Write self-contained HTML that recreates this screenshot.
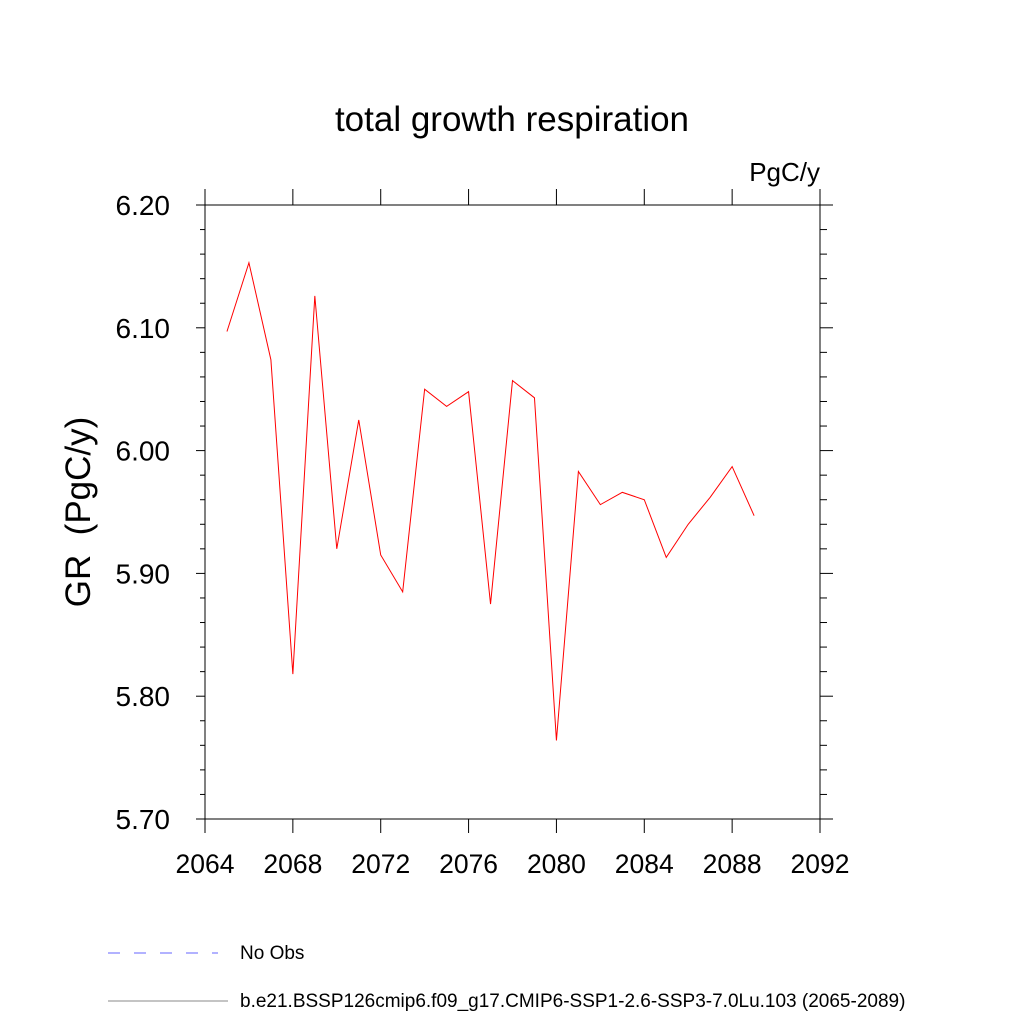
<!DOCTYPE html>
<html><head><meta charset="utf-8"><style>
body{margin:0;background:#fff;}
svg text{font-family:"Liberation Sans",sans-serif;}
</style></head><body>
<svg id="chart" width="1024" height="1024" xmlns="http://www.w3.org/2000/svg">
<text x="512" y="131" font-size="35" text-anchor="middle">total growth respiration</text>
<text x="820" y="181" font-size="26" text-anchor="end">PgC/y</text>
<text transform="translate(90,512) rotate(-90)" font-size="35" text-anchor="middle" xml:space="preserve">GR  (PgC/y)</text>
<rect x="205" y="205" width="615" height="614" fill="none" stroke="#000" stroke-width="1"/>
<g id="axes"></g>
<polyline id="series" fill="none" stroke="#ff0000" stroke-width="1"/>
<line x1="108" y1="953" x2="218" y2="953" stroke="#6666ff" stroke-dasharray="12,14"/>
<text x="240" y="959" font-size="19">No Obs</text>
<line x1="108" y1="1001" x2="228" y2="1001" stroke="#888"/>
<text x="240" y="1007" font-size="19">b.e21.BSSP126cmip6.f09_g17.CMIP6-SSP1-2.6-SSP3-7.0Lu.103 (2065-2089)</text>
</svg>
<script>
const years=[2065,2066,2067,2068,2069,2070,2071,2072,2073,2074,2075,2076,2077,2078,2079,2080,2081,2082,2083,2084,2085,2086,2087,2088,2089];
const values=[6.097,6.153,6.074,5.818,6.126,5.920,6.025,5.915,5.885,6.050,6.036,6.048,5.875,6.057,6.043,5.764,5.983,5.956,5.966,5.960,5.913,5.940,5.962,5.987,5.947];
const xTicks=[2064,2068,2072,2076,2080,2084,2088,2092];
const yTicks=["5.70","5.80","5.90","6.00","6.10","6.20"];
const X0=205,X1=820,Y0=819,Y1=205;
const xs=v=>X0+(v-2064)/(2092-2064)*(X1-X0);
const ys=v=>Y0-(v-5.7)/(6.2-5.7)*(Y0-Y1);
const NS="http://www.w3.org/2000/svg";
const g=document.getElementById('axes');
function ln(x1,y1,x2,y2,name){const l=document.createElementNS(NS,'line');
l.setAttribute('x1',x1);l.setAttribute('y1',y1);l.setAttribute('x2',x2);l.setAttribute('y2',y2);
l.setAttribute('stroke','#000');


g.appendChild(l);}
function tx(x,y,s,anchor,name,fs){const t=document.createElementNS(NS,'text');
t.setAttribute('x',x);t.setAttribute('y',y);t.setAttribute('font-size',fs);t.setAttribute('text-anchor',anchor);t.textContent=s;


g.appendChild(t);}
xTicks.forEach(v=>{const x=xs(v);ln(x,Y0,x,Y0+14,'x-tick');ln(x,Y1,x,Y1-16,'x-tick-top');tx(x,873,String(v),'middle','x-tick-label','26.5');});
yTicks.forEach(s=>{const y=ys(parseFloat(s));ln(X0,y,X0-9,y,'y-tick');ln(X1,y,X1+13,y,'y-tick-right');tx(X0-35,y+10,s,'end','y-tick-label','28');});
for(let i=0;i<=25;i++){if(i%5===0)continue;const y=ys(5.7+i*0.02);ln(X0,y,X0-5,y,'y-minor-tick');ln(X1,y,X1+7,y,'y-minor-tick-right');}
document.getElementById('series').setAttribute('points',years.map((yr,i)=>xs(yr)+','+ys(values[i])).join(' '));
</script>
</body></html>
